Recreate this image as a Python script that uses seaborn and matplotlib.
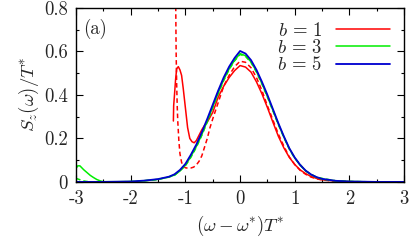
import matplotlib
matplotlib.use("Agg")
import matplotlib.pyplot as plt
from matplotlib.ticker import MultipleLocator
import seaborn as sns

# values
b1_x = [-1.22, -1.215, -1.2, -1.18, -1.16, -1.13, -1.10, -1.07, -1.04, -1.0, -0.96, -0.92,
        -0.88, -0.84, -0.8, -0.75, -0.7, -0.65, -0.6, -0.5, -0.4, -0.3, -0.2, -0.1, 0.0,
        0.1, 0.2, 0.3, 0.4, 0.5, 0.6, 0.7, 0.8, 0.9, 1.0, 1.1, 1.2, 1.3, 1.4, 1.5, 1.75,
        2.0, 2.5, 3.0]
b1_y = [0.28, 0.35, 0.40, 0.47, 0.52, 0.53, 0.515, 0.49, 0.43, 0.34, 0.25, 0.20,
        0.185, 0.18, 0.19, 0.215, 0.24, 0.26, 0.275, 0.32, 0.39, 0.44, 0.48, 0.512, 0.535,
        0.528, 0.505, 0.46, 0.405, 0.342, 0.275, 0.21, 0.157, 0.113, 0.08, 0.055, 0.038,
        0.025, 0.016, 0.01, 0.004, 0.001, 0.0, 0.0]

b1d_x = [-1.18, -1.175, -1.17, -1.16, -1.15, -1.14, -1.12, -1.10, -1.07, -1.04, -1.0,
         -0.95, -0.9, -0.85, -0.8, -0.75, -0.7, -0.65, -0.6, -0.55, -0.5, -0.4, -0.3, -0.2,
         -0.1, 0.0, 0.1, 0.2, 0.3, 0.4, 0.5, 0.6, 0.7, 0.8, 0.9, 1.0, 1.1, 1.2, 1.3, 1.4,
         1.5, 1.75, 2.0, 2.5, 3.0]
b1d_y = [0.9, 0.75, 0.6, 0.45, 0.35, 0.28, 0.19, 0.13, 0.09, 0.072, 0.065,
         0.063, 0.064, 0.068, 0.078, 0.095, 0.12, 0.16, 0.2, 0.25, 0.29, 0.365, 0.44, 0.49,
         0.53, 0.555, 0.55, 0.525, 0.48, 0.42, 0.35, 0.285, 0.22, 0.165, 0.115, 0.08, 0.053,
         0.035, 0.022, 0.014, 0.009, 0.003, 0.001, 0.0, 0.0]

b3_x = [-3.0, -2.97, -2.93, -2.86, -2.8, -2.74, -2.68, -2.62, -2.55, -2.5, -2.25, -2.0,
        -1.75, -1.5, -1.3, -1.2, -1.1, -1.0, -0.9, -0.8, -0.7, -0.6, -0.5, -0.4, -0.3,
        -0.2, -0.1, 0.0, 0.1, 0.2, 0.3, 0.4, 0.5, 0.6, 0.7, 0.8, 0.9, 1.0, 1.1, 1.2, 1.3,
        1.4, 1.5, 1.75, 2.0, 2.5, 3.0]
b3_y = [0.062, 0.074, 0.074, 0.056, 0.043, 0.030, 0.020, 0.011, 0.004, 0.001, 0.001, 0.002,
        0.005, 0.012, 0.022, 0.032, 0.05, 0.077, 0.117, 0.163, 0.218, 0.28, 0.345, 0.41, 0.47,
        0.52, 0.56, 0.59, 0.58, 0.552, 0.508, 0.453, 0.393, 0.33, 0.266, 0.207, 0.153, 0.11,
        0.076, 0.051, 0.033, 0.021, 0.013, 0.005, 0.002, 0.0, 0.0]

b3d_x = [-3.0, -2.95, -2.9, -2.85, -2.8, -2.7, -2.0, -1.5, -1.2, -1.0, -0.9, -0.8, -0.7,
         -0.6, -0.5, -0.4, -0.3, -0.2, -0.1, 0.0, 0.1, 0.2, 0.3, 0.4, 0.5, 0.6, 0.7, 0.8,
         0.9, 1.0, 1.2, 1.4, 1.75, 2.0, 2.5, 3.0]
b3d_y = [0.016, 0.012, 0.007, 0.004, 0.002, 0.0, 0.001, 0.011, 0.03, 0.074, 0.113, 0.159,
         0.214, 0.276, 0.341, 0.406, 0.466, 0.517, 0.557, 0.586, 0.577, 0.549, 0.505, 0.45,
         0.39, 0.327, 0.263, 0.205, 0.151, 0.109, 0.05, 0.021, 0.005, 0.002, 0.0, 0.0]

b5_x = [-3.0, -2.5, -2.0, -1.75, -1.5, -1.3, -1.2, -1.1, -1.0, -0.9, -0.8, -0.7, -0.6,
        -0.5, -0.4, -0.3, -0.2, -0.1, 0.0, 0.1, 0.2, 0.3, 0.4, 0.5, 0.6, 0.7, 0.8, 0.9,
        1.0, 1.1, 1.2, 1.3, 1.4, 1.5, 1.75, 2.0, 2.5, 3.0]
b5_y = [0.0, 0.0, 0.002, 0.006, 0.013, 0.024, 0.035, 0.055, 0.083, 0.125, 0.172, 0.228,
        0.29, 0.355, 0.42, 0.48, 0.53, 0.57, 0.602, 0.59, 0.56, 0.515, 0.46, 0.40, 0.335,
        0.27, 0.21, 0.155, 0.112, 0.078, 0.052, 0.034, 0.022, 0.014, 0.005, 0.002, 0.0, 0.0]

sns.set_style("ticks")
plt.rcParams["font.family"] = ["cmr10", "DejaVu Serif"]
plt.rcParams["mathtext.fontset"] = "cm"
plt.rcParams["axes.unicode_minus"] = False
plt.rcParams["axes.formatter.use_mathtext"] = False

fs = 13.5
fig = plt.figure(figsize=(4.09, 2.40), dpi=100)
ax = fig.add_axes([0.186, 0.242, 0.802, 0.725])

lw = 1.1
dash = (0, (3, 2))
sns.lineplot(x=b1_x, y=b1_y, ax=ax, color="#ff0000", lw=lw, sort=False, estimator=None,
             label=r"$b\, =\, 1$")
sns.lineplot(x=b1d_x, y=b1d_y, ax=ax, color="#ff0000", lw=lw, sort=False, estimator=None)
ax.lines[-1].set_linestyle(dash)
sns.lineplot(x=b3d_x, y=b3d_y, ax=ax, color="#00ee00", lw=lw, sort=False, estimator=None)
ax.lines[-1].set_linestyle(dash)
sns.lineplot(x=b3_x, y=b3_y, ax=ax, color="#00ee00", lw=lw, sort=False, estimator=None,
             label=r"$b\, =\, 3$")
sns.lineplot(x=b5_x, y=b5_y, ax=ax, color="#0000d0", lw=lw * 1.2, sort=False, estimator=None,
             label=r"$b\, =\, 5$")

ax.set_xlim(-3, 3)
ax.set_ylim(0, 0.8)
ax.xaxis.set_minor_locator(MultipleLocator(0.5))
ax.yaxis.set_minor_locator(MultipleLocator(0.1))
ax.set_xticks([-3, -2, -1, 0, 1, 2, 3])
ax.set_xticklabels(["-3", "-2", "-1", "0", "1", "2", "3"])
ax.set_yticks([0, 0.2, 0.4, 0.6, 0.8])
ax.set_yticklabels(["0", "0.2", "0.4", "0.6", "0.8"])
ax.tick_params(which="both", direction="in", top=True, right=True, labelsize=fs,
               width=0.8, color="black")
ax.tick_params(which="major", length=5, pad=6)
ax.tick_params(which="minor", length=2.5)
for s in ax.spines.values():
    s.set_linewidth(1.0)
    s.set_color("black")

ax.set_xlabel(r"$(\omega - \omega^{*})T^{*}$", fontsize=fs, labelpad=4)
ax.set_ylabel(r"$S_z(\omega)/T^{*}$", fontsize=fs, labelpad=2)
ax.text(0.02, 0.935, "(a)", transform=ax.transAxes, fontsize=fs, va="top", ha="left")

ax.legend(loc="upper right", frameon=False, markerfirst=False, fontsize=fs,
          handlelength=2.9, labelspacing=-0.05, borderaxespad=0.35, handletextpad=0.7)

fig.savefig("out.png", dpi=100)
